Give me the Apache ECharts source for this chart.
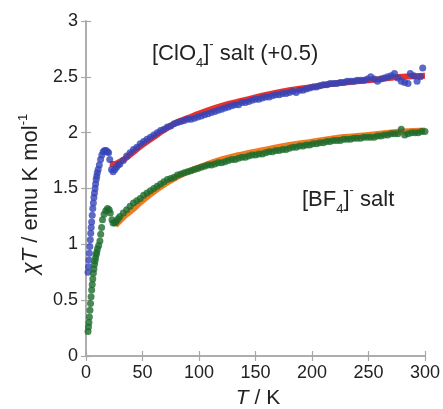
<!DOCTYPE html>
<html>
<head>
<meta charset="utf-8">
<script src="https://cdn.jsdelivr.net/npm/echarts@6/dist/echarts.min.js"></script>
<style>
  html, body { margin: 0; padding: 0; background: #fff; }
  #chart { width: 443px; height: 409px; }
</style>
</head>
<body>
<div id="chart"></div>
<script>
// [ClO4]- salt (+0.5) measured points
let clo4T = [1.8, 2.2, 2.6, 3.0, 3.4, 3.8, 4.2, 4.6, 5.0, 5.5, 6.0, 6.5, 7.0, 7.5, 8.0, 8.5, 9.0, 9.5, 10, 10.8,
  11.8, 12.9, 14, 15.2, 16.5, 17.8, 19, 20, 21, 22.6, 24, 25.5, 27, 28.5,
  30, 33, 36, 39, 42, 45, 48, 51, 54, 57, 60, 63, 66, 69, 72, 75, 78, 81, 84, 87,
  90, 93, 96, 99, 102, 105, 108, 111, 114, 117, 120, 123, 126, 129, 132, 135, 138, 141, 144, 147,
  150, 153, 156, 159, 162, 165, 168, 171, 174, 177, 180, 183, 186, 189, 192, 195, 198, 201, 204, 207,
  210, 213, 216, 219, 222, 225, 228, 231, 234, 237, 240, 243, 246, 249,
  252, 255, 258, 261, 264, 267, 270, 273, 276, 279, 282, 285, 287, 290, 293, 296, 298];
let clo4Y = [0.75, 0.80, 0.86, 0.92, 0.98, 1.04, 1.10, 1.15, 1.20, 1.26, 1.32, 1.37, 1.42, 1.46, 1.50, 1.54, 1.58, 1.61, 1.64, 1.67,
  1.71, 1.76, 1.80, 1.83, 1.84, 1.84, 1.83, 1.82, 1.76, 1.67, 1.65, 1.67, 1.69, 1.71,
  1.72, 1.75, 1.79, 1.82, 1.85, 1.87, 1.90, 1.92, 1.94, 1.96, 1.98, 2.00, 2.02, 2.03, 2.05, 2.06, 2.08, 2.09, 2.10, 2.11,
  2.12, 2.12, 2.13, 2.14, 2.15, 2.16, 2.17, 2.18, 2.19, 2.20, 2.21, 2.22, 2.23, 2.24, 2.25, 2.25, 2.27, 2.27, 2.28, 2.29,
  2.30, 2.30, 2.31, 2.32, 2.32, 2.33, 2.34, 2.34, 2.35, 2.35, 2.36, 2.37, 2.36, 2.38, 2.38, 2.39, 2.40, 2.41, 2.41, 2.42,
  2.43, 2.43, 2.44, 2.44, 2.44, 2.45, 2.45, 2.46, 2.46, 2.46, 2.47, 2.47, 2.47, 2.48,
  2.50, 2.48, 2.46, 2.48, 2.49, 2.50, 2.51, 2.53, 2.49, 2.46, 2.45, 2.44, 2.53, 2.51, 2.46, 2.50, 2.58];

// [ClO4]- fit
let clo4FitT = [21, 25, 30, 35, 40, 50, 60, 70, 80, 90, 100, 120, 140, 160, 180, 200, 220, 240, 260, 280, 300];
let clo4FitY = [1.72, 1.72, 1.74, 1.77, 1.81, 1.89, 1.96, 2.03, 2.09, 2.13, 2.17, 2.24, 2.29, 2.34, 2.38, 2.41, 2.44, 2.46, 2.48, 2.50, 2.51];

// [BF4]- salt measured points
let bf4T = [1.8, 2.2, 2.6, 3.0, 3.5, 4.0, 4.5, 5.0, 5.5, 6.0, 6.5, 7.0, 7.5, 8.0, 8.5, 9.0, 9.5, 10.2, 11.2, 12.3,
  13, 13.8, 14.6, 16, 17.5, 19, 20.5, 21.5, 23, 24, 25.5, 27, 28.5,
  30, 33, 36, 39, 42, 45, 48, 51, 54, 57, 60, 63, 66, 69, 72, 75, 78, 81, 84, 87,
  90, 93, 96, 99, 102, 105, 108, 111, 114, 117, 120, 123, 126, 129, 132, 135, 138, 141, 144, 147,
  150, 153, 156, 159, 162, 165, 168, 171, 174, 177, 180, 183, 186, 189, 192, 195, 198, 201, 204, 207,
  210, 213, 216, 219, 222, 225, 228, 231, 234, 237, 240, 243, 246, 249,
  252, 255, 258, 261, 264, 267, 270, 273, 276, 279, 282, 285, 288, 291, 294, 297, 300];
let bf4Y = [0.22, 0.26, 0.30, 0.35, 0.41, 0.47, 0.53, 0.59, 0.64, 0.69, 0.74, 0.78, 0.82, 0.85, 0.88, 0.91, 0.93, 0.96, 0.99, 1.03,
  1.09, 1.15, 1.22, 1.27, 1.30, 1.32, 1.31, 1.28, 1.22, 1.19, 1.19, 1.21, 1.23,
  1.25, 1.28, 1.31, 1.34, 1.37, 1.39, 1.41, 1.44, 1.46, 1.48, 1.50, 1.52, 1.54, 1.56, 1.58, 1.59, 1.60, 1.62, 1.63, 1.64,
  1.65, 1.66, 1.67, 1.68, 1.69, 1.70, 1.71, 1.71, 1.72, 1.73, 1.73, 1.74, 1.75, 1.76, 1.76, 1.77, 1.78, 1.78, 1.79, 1.80,
  1.80, 1.81, 1.81, 1.82, 1.83, 1.83, 1.84, 1.84, 1.85, 1.85, 1.86, 1.87, 1.87, 1.88, 1.88, 1.89, 1.89, 1.90, 1.90, 1.91,
  1.91, 1.92, 1.92, 1.93, 1.93, 1.93, 1.94, 1.94, 1.94, 1.95, 1.95, 1.95, 1.96, 1.96,
  1.96, 1.96, 1.97, 1.97, 1.98, 1.98, 1.99, 1.99, 1.99, 2.03, 1.98, 1.99, 2.00, 2.00, 2.00, 2.01, 2.01];

// [BF4]- fit
let bf4FitT = [26, 30, 35, 40, 50, 60, 70, 80, 90, 100, 120, 140, 160, 180, 200, 220, 240, 260, 280, 300];
let bf4FitY = [1.17, 1.21, 1.26, 1.30, 1.39, 1.47, 1.54, 1.60, 1.65, 1.69, 1.76, 1.81, 1.85, 1.89, 1.92, 1.95, 1.97, 1.99, 2.01, 2.02];

let xTicks = [0, 50, 100, 150, 200, 250, 300];
let yTicks = [0, 0.5, 1, 1.5, 2, 2.5, 3];

function zip(a, b){
  let r = [];
  for(let i = 0; i < a.length; i++){
    r.push([a[i], b[i]]);
  }
  return r;
}

let chart = echarts.init(document.getElementById('chart'));
let frame = '#a8a8a8';
let font = 'Liberation Sans, Arial, sans-serif';

function axisBase(show){
  return {
    axisLine: { show: true, lineStyle: { color: frame, width: 1.5 } },
    axisTick: { show: true, inside: true, length: 5, lineStyle: { color: frame, width: 1.2 } },
    axisLabel: { show: show, color: '#222', fontSize: 18, fontFamily: font },
    splitLine: { show: false }
  };
}

let rich = {
  a: { fontSize: 22, fontFamily: font, fill: '#222', lineHeight: 32, verticalAlign: 'middle' },
  sub: { fontSize: 13, fontFamily: font, fill: '#222', lineHeight: 13, verticalAlign: 'bottom' },
  sup: { fontSize: 13, fontFamily: font, fill: '#222', lineHeight: 13, verticalAlign: 'top' }
};

let option = {
  animation: false,
  backgroundColor: '#fff',
  grid: { left: 86, right: 16, top: 21, bottom: 53 },
  xAxis: [
    Object.assign({ type: 'value', min: xTicks[0], max: xTicks[xTicks.length - 1], interval: 50, position: 'bottom' }, axisBase(true)),
    Object.assign({ type: 'value', min: xTicks[0], max: xTicks[xTicks.length - 1], interval: 50, position: 'top' }, axisBase(false))
  ],
  yAxis: [
    Object.assign({ type: 'value', min: yTicks[0], max: yTicks[yTicks.length - 1], interval: 0.5, position: 'left' }, axisBase(true)),
    Object.assign({ type: 'value', min: yTicks[0], max: yTicks[yTicks.length - 1], interval: 0.5, position: 'right' }, axisBase(false))
  ],
  series: [
    {
      type: 'line', data: zip(clo4FitT, clo4FitY), smooth: true, showSymbol: false,
      lineStyle: { color: '#e8322c', width: 6 }, z: 2
    },
    {
      type: 'line', data: zip(bf4FitT, bf4FitY), smooth: true, showSymbol: false,
      lineStyle: { color: '#f07c22', width: 6 }, z: 2
    },
    {
      type: 'scatter', data: zip(clo4T, clo4Y), symbolSize: 7,
      itemStyle: { color: '#3443b8' }, z: 3
    },
    {
      type: 'scatter', data: zip(bf4T, bf4Y), symbolSize: 7,
      itemStyle: { color: '#1c6b2c' }, z: 3
    }
  ],
  graphic: [
    {
      type: 'text', left: 152, top: 38,
      style: { text: '{a|[ClO}{sub|4}{a|]}{sup|-}{a| salt (+0.5)}', rich: rich }
    },
    {
      type: 'text', left: 302, top: 184,
      style: { text: '{a|[BF}{sub|4}{a|]}{sup|-}{a| salt}', rich: rich }
    },
    {
      type: 'text', x: 258, y: 398,
      style: {
        text: '{i|T}{a| / K}',
        align: 'center', verticalAlign: 'middle',
        rich: {
          i: { fontSize: 21, fontFamily: font, fontStyle: 'italic', fill: '#222' },
          a: { fontSize: 21, fontFamily: font, fill: '#222' }
        }
      }
    },
    {
      type: 'text', x: 31, y: 194, rotation: Math.PI / 2,
      style: {
        text: '{i|χT}{a| / emu K mol}{sup|-1}',
        align: 'center', verticalAlign: 'middle',
        rich: {
          i: { fontSize: 22, fontFamily: font, fontStyle: 'italic', fill: '#222', lineHeight: 28, verticalAlign: 'middle' },
          a: { fontSize: 22, fontFamily: font, fill: '#222', lineHeight: 28, verticalAlign: 'middle' },
          sup: { fontSize: 13, fontFamily: font, fill: '#222', lineHeight: 13, verticalAlign: 'top' }
        }
      }
    }
  ]
};

chart.setOption(option);
</script>
</body>
</html>
